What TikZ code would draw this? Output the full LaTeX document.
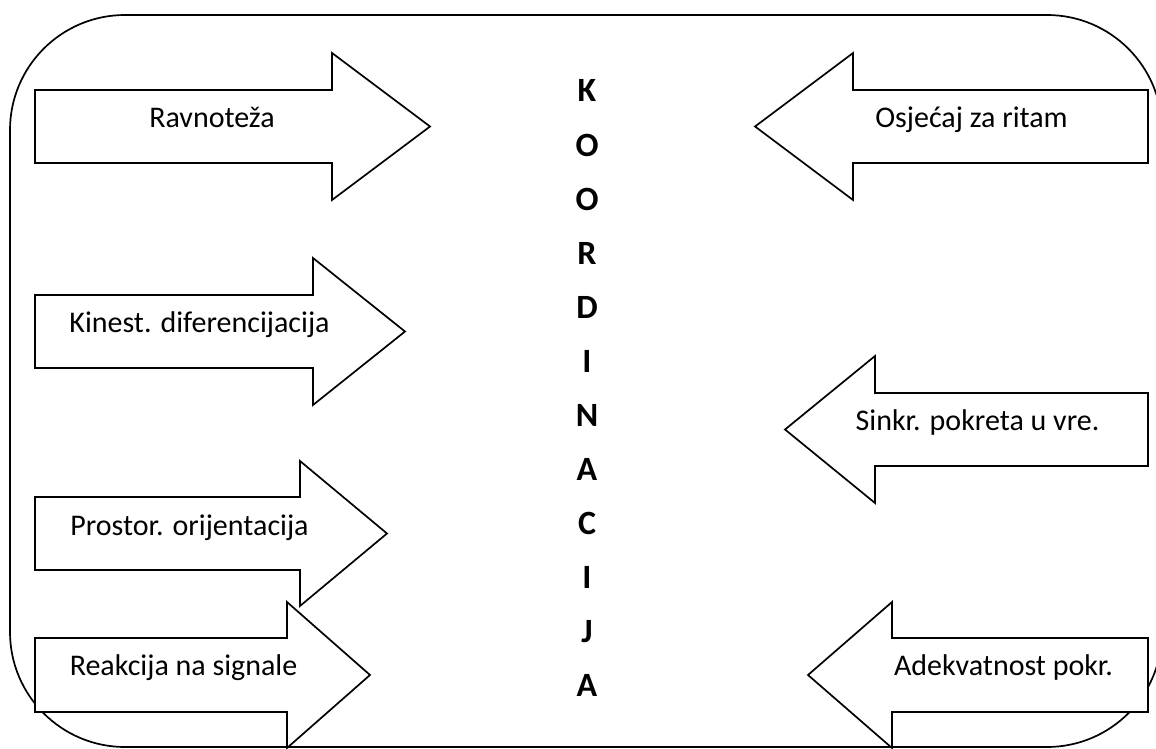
\documentclass[tikz,border=0pt]{standalone}
\usepackage{fontspec}
\setmainfont{Carlito}
\begin{document}
\begin{tikzpicture}[x=1pt,y=-1pt,line width=1.7pt,line join=miter,
  arrowbody/.style={draw=black,fill=white},
  lbl/.style={font=\fontsize{30}{36}\selectfont,anchor=base,inner sep=0pt},
  letter/.style={font=\fontsize{34}{40}\selectfont\bfseries,anchor=base,inner sep=0pt}]
\useasboundingbox (0,0) rectangle (1156,749);
\clip (0,0) rectangle (1156,749);
% frame
\draw[rounded corners=115pt] (10,15) rectangle (1162,747);
% left arrows (pointing right)
\draw[arrowbody] (35,90) -- (332,90) -- (332,53) -- (430,126.5) -- (332,200) -- (332,163) -- (35,163) -- cycle;
\node[lbl] (ravnoteza) at (212,128) {Ravnoteža};
\draw[arrowbody] (35,295) -- (313,295) -- (313,258) -- (405,331.5) -- (313,405) -- (313,368) -- (35,368) -- cycle;
\node[lbl] (kinest) at (199.5,332) {Kinest. diferencijacija};
\draw[arrowbody] (35,497) -- (300,497) -- (300,461) -- (387,533.5) -- (300,606) -- (300,570) -- (35,570) -- cycle;
\node[lbl] (prostor) at (189.5,535) {Prostor. orijentacija};
\draw[arrowbody] (35,638) -- (287,638) -- (287,602) -- (370,675) -- (287,748) -- (287,712) -- (35,712) -- cycle;
\node[lbl] (reakcija) at (183.5,675) {Reakcija na signale};
% right arrows (pointing left)
\draw[arrowbody] (1148,90) -- (853,90) -- (853,53) -- (755,126.5) -- (853,200) -- (853,163) -- (1148,163) -- cycle;
\node[lbl] (osjecaj) at (971.5,128) {Osjećaj za ritam};
\draw[arrowbody] (1148,393) -- (875,393) -- (875,356) -- (785,429.5) -- (875,503) -- (875,466) -- (1148,466) -- cycle;
\node[lbl] (sinkr) at (977.5,430) {Sinkr. pokreta u vre.};
\draw[arrowbody] (1148,638) -- (892,638) -- (892,602) -- (808,675) -- (892,748) -- (892,712) -- (1148,712) -- cycle;
\node[lbl] (adekvatnost) at (1003.5,675) {Adekvatnost pokr.};
% central word
\foreach \ch [count=\i from 0] in {K,O,O,R,D,I,N,A,C,I,J,A}
  \node[letter] (l\i) at (587,102+54.06*\i) {\ch};
\end{tikzpicture}
\end{document}
